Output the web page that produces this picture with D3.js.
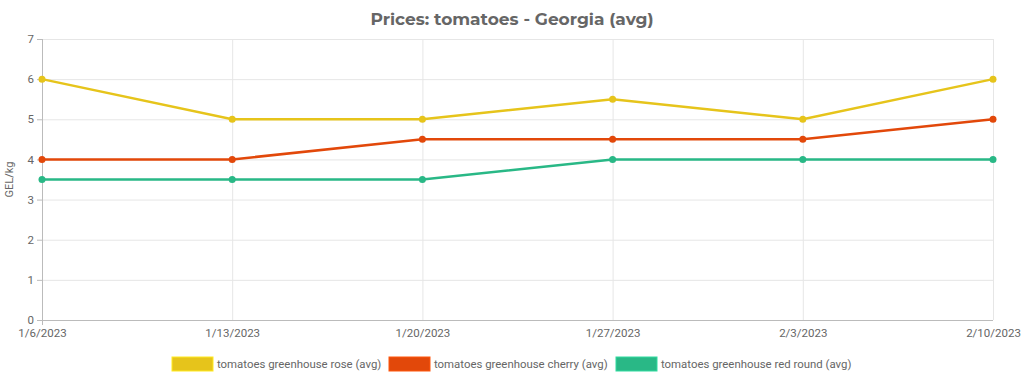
<!DOCTYPE html>
<html>
<head>
<meta charset="utf-8">
<script src="https://cdn.jsdelivr.net/npm/d3@7"></script>
<style>
  body { margin: 0; background: #fff; }
  text { font-family: Roboto, "Liberation Sans", sans-serif; }
</style>
</head>
<body>
<div id="chart"></div>
<script>
const WIDTH = 1024, HEIGHT = 379;
const MARGIN = { top: 39, right: 31, bottom: 59, left: 42 };
const PLOT_W = WIDTH - MARGIN.left - MARGIN.right, PLOT_H = HEIGHT - MARGIN.top - MARGIN.bottom;

// data
const dates = ["1/6/2023", "1/13/2023", "1/20/2023", "1/27/2023", "2/3/2023", "2/10/2023"];
const seriesNames = ["tomatoes greenhouse rose (avg)", "tomatoes greenhouse cherry (avg)", "tomatoes greenhouse red round (avg)"];
const roseValues = [6, 5, 5, 5.5, 5, 6];
const cherryValues = [4, 4, 4.5, 4.5, 4.5, 5];
const redRoundValues = [3.5, 3.5, 3.5, 4, 4, 4];
const yTicks = [0, 1, 2, 3, 4, 5, 6, 7];
const colors = ["#e6c41b", "#e2480a", "#29b886"];

const allSeries = [roseValues, cherryValues, redRoundValues];

const svg = d3.select("#chart").append("svg")
    .attr("width", WIDTH)
    .attr("height", HEIGHT);

svg.append("text")
    .attr("x", WIDTH / 2)
    .attr("y", 25)
    .attr("text-anchor", "middle")
    .style("font-family", "Montserrat, 'Open Sans', sans-serif")
    .style("font-weight", "bold")
    .style("font-size", "17px")
    .attr("fill", "#666")
    .text("Prices: tomatoes - Georgia (avg)");

const g = svg.append("g").attr("transform", "translate(" + MARGIN.left + "," + MARGIN.top + ")");

let x = d3.scalePoint().domain(dates).range([0, PLOT_W]);
let y = d3.scaleLinear().domain([0, 7]).range([PLOT_H, 0]);

// grid
g.append("g").selectAll("line.h").data(yTicks.filter(d => d > 0)).join("line")
    .attr("x1", 0).attr("x2", PLOT_W)
    .attr("y1", d => y(d) + 0.5).attr("y2", d => y(d) + 0.5)
    .attr("stroke", "#e6e6e6");
g.append("g").selectAll("line.v").data(dates.slice(1)).join("line")
    .attr("x1", d => x(d) + 0.5).attr("x2", d => x(d) + 0.5)
    .attr("y1", 0).attr("y2", PLOT_H)
    .attr("stroke", "#e6e6e6");

// axes
const yAx = g.append("g")
    .call(d3.axisLeft(y).tickValues(yTicks).tickSize(5).tickPadding(3).tickFormat(d3.format("d")));
const xAx = g.append("g")
    .attr("transform", "translate(0," + PLOT_H + ")")
    .call(d3.axisBottom(x).tickSize(5).tickPadding(4));
[yAx, xAx].forEach(a => {
    a.select(".domain").attr("stroke", "#bbb");
    a.selectAll(".tick line").attr("stroke", "#bbb");
    a.selectAll(".tick text").attr("fill", "#666").style("font-size", "11.5px").style("font-family", "Roboto, sans-serif");
});
yAx.select(".domain").attr("d", "M0.5,0V" + (PLOT_H + 5));
xAx.selectAll(".tick line").attr("y2", 0);
xAx.select(".domain").attr("d", "M0," + 0.5 + "H" + PLOT_W);
yAx.selectAll(".tick line").attr("x2", -5);

svg.append("text")
    .attr("transform", "translate(13," + (MARGIN.top + PLOT_H / 2) + ") rotate(-90)")
    .attr("text-anchor", "middle")
    .attr("fill", "#666")
    .style("font-size", "11px")
    .text("GEL/kg");

// lines
const line = d3.line()
    .x((d, i) => x(dates[i]))
    .y(d => y(d));

allSeries.forEach((vals, s) => {
    g.append("path")
        .datum(vals)
        .attr("d", line)
        .attr("fill", "none")
        .attr("stroke", colors[s])
        .style("stroke-width", 2.5);
    g.append("g").selectAll("circle").data(vals).join("circle")
        .attr("cx", (d, i) => x(dates[i]))
        .attr("cy", d => y(d))
        .attr("r", 3.5)
        .attr("fill", colors[s]);
});

// legend
const legendX = [172, 389, 616];
const legend = svg.append("g");
seriesNames.forEach((name, i) => {
    legend.append("rect")
        .attr("x", legendX[i]).attr("y", 357)
        .attr("width", 41).attr("height", 14)
        .attr("fill", colors[i])
        .attr("stroke", d3.color(colors[i]).brighter(0.5))
        .attr("stroke-width", 1);
    legend.append("text")
        .attr("x", legendX[i] + 45).attr("y", 368)
        .attr("fill", "#666")
        .style("font-size", "11.4px")
        .text(name);
});
</script>
</body>
</html>
